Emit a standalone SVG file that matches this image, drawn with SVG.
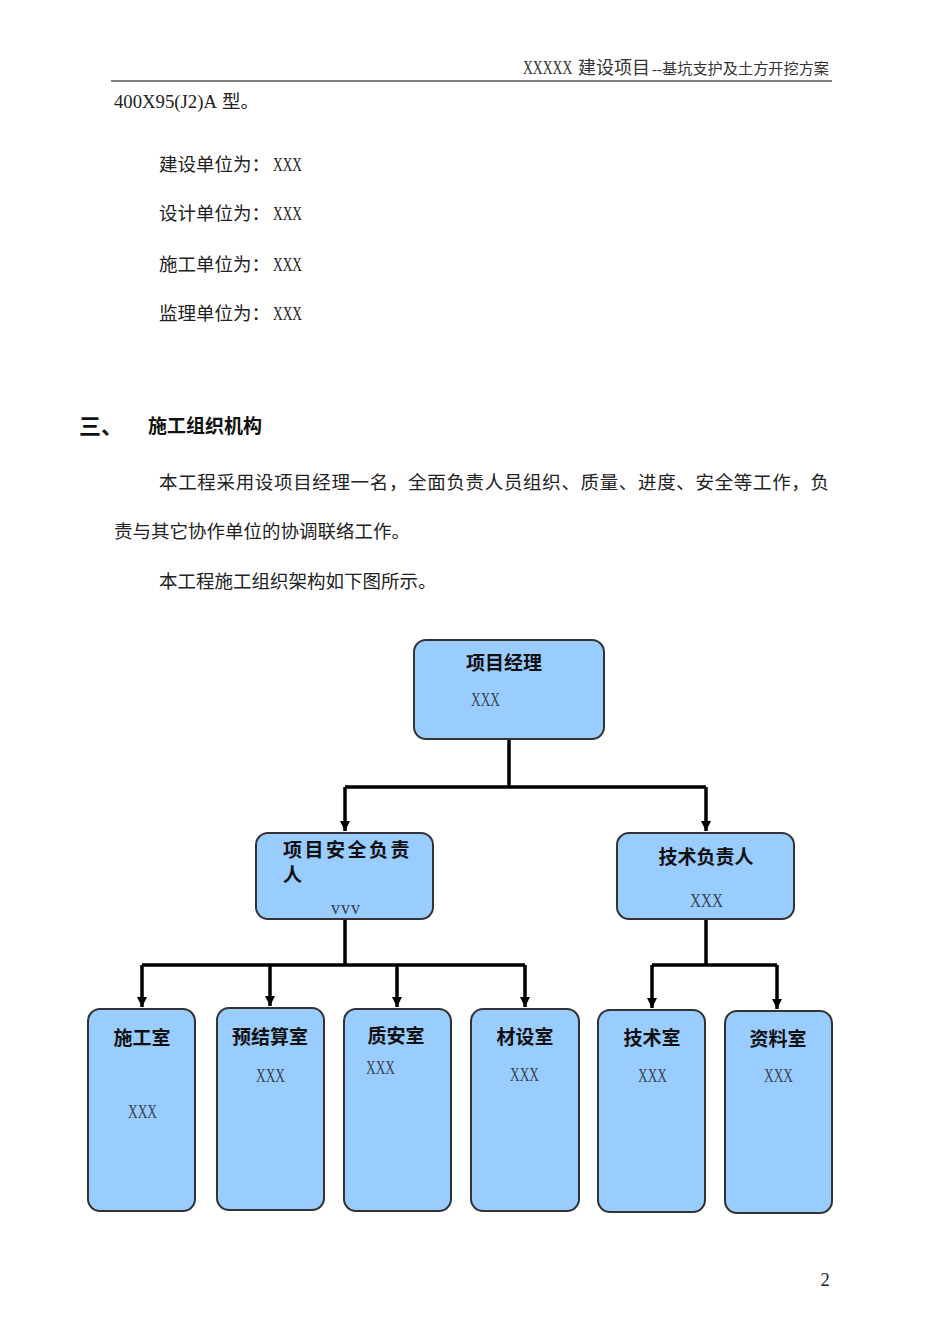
<svg xmlns="http://www.w3.org/2000/svg" width="950" height="1344" viewBox="0 0 950 1344">
<style>
.body{font-family:"Liberation Serif","Noto Sans CJK SC",serif;font-size:18.5px;fill:#222}
.hd{font-family:"Liberation Serif","Noto Sans CJK SC",serif;fill:#333}
.h1{font-family:"Liberation Sans","Noto Sans CJK SC",sans-serif;font-weight:bold;fill:#111}
.box{fill:#99CCFF;stroke:#333;stroke-width:2}
.ttl{font-family:"Liberation Sans","Noto Sans CJK SC",sans-serif;font-weight:bold;font-size:19px;fill:#111}
.val{font-family:"Liberation Serif","Noto Sans CJK SC",serif;font-size:18px;fill:#3a4450}
.cn{fill:none;stroke:#000;stroke-width:3.5}
</style>
<defs>
<marker id="ah" viewBox="0 0 10 10" refX="10" refY="5" markerWidth="3" markerHeight="3" orient="auto" markerUnits="strokeWidth">
<path d="M0,0 L10,5 L0,10 z" fill="#000"/>
</marker>
</defs>
<rect width="950" height="1344" fill="#fff"/>
<g id="header">
<text class="hd" transform="translate(523,74) scale(0.76,1)" font-size="18">XXXXX</text>
<text class="hd" x="578" y="74" font-size="18">建设项目</text>
<text class="hd" x="652" y="74" font-size="15" textLength="177" lengthAdjust="spacingAndGlyphs">--基坑支护及土方开挖方案</text>
<line x1="111" y1="81" x2="832" y2="81" stroke="#000" stroke-width="1.2"/>
</g>
<g id="text">
<text class="body" x="114" y="108" textLength="103" lengthAdjust="spacingAndGlyphs">400X95(J2)A</text>
<text class="body" x="222" y="108">型。</text>
<text class="body" x="159" y="171">建设单位为：<tspan x="273" textLength="29" lengthAdjust="spacingAndGlyphs">XXX</tspan></text>
<text class="body" x="159" y="220">设计单位为：<tspan x="273" textLength="29" lengthAdjust="spacingAndGlyphs">XXX</tspan></text>
<text class="body" x="159" y="271">施工单位为：<tspan x="273" textLength="29" lengthAdjust="spacingAndGlyphs">XXX</tspan></text>
<text class="body" x="159" y="320">监理单位为：<tspan x="273" textLength="29" lengthAdjust="spacingAndGlyphs">XXX</tspan></text>
<text class="h1" x="79" y="434" font-size="22">三、</text>
<text class="h1" x="148" y="433" font-size="19">施工组织机构</text>
<text class="body" x="159" y="489" textLength="670" lengthAdjust="spacing">本工程采用设项目经理一名，全面负责人员组织、质量、进度、安全等工作，负</text>
<text class="body" x="114" y="538">责与其它协作单位的协调联络工作。</text>
<text class="body" x="159" y="588">本工程施工组织架构如下图所示。</text>
<text class="body" x="825" y="1286" font-size="13" text-anchor="middle">2</text>
</g>
<g id="connectors">
<path class="cn" d="M509,739 V787 M345,787 H706"/>
<path class="cn" d="M345,787 V831" marker-end="url(#ah)"/>
<path class="cn" d="M706,787 V831" marker-end="url(#ah)"/>
<path class="cn" d="M345,919 V965 M142,965 H525 M706,919 V965 M652,965 H777"/>
<path class="cn" d="M142,965 V1007" marker-end="url(#ah)"/>
<path class="cn" d="M270,965 V1006" marker-end="url(#ah)"/>
<path class="cn" d="M397,965 V1007" marker-end="url(#ah)"/>
<path class="cn" d="M525,965 V1007" marker-end="url(#ah)"/>
<path class="cn" d="M652,965 V1008" marker-end="url(#ah)"/>
<path class="cn" d="M777,965 V1009" marker-end="url(#ah)"/>
</g>
<g id="pm">
<rect class="box" x="414" y="640" width="190" height="99" rx="12"/>
<text class="ttl" x="466" y="670">项目经理</text>
<text class="val" x="471" y="706" textLength="29" lengthAdjust="spacingAndGlyphs">XXX</text>
</g>
<g id="safety">
<rect class="box" x="256" y="833" width="177" height="86" rx="12"/>
<text class="ttl" x="283" y="857" letter-spacing="2.5">项目安全负责</text>
<text class="ttl" x="283" y="882">人</text>
<text class="val" x="346" y="914" text-anchor="middle" font-size="14" letter-spacing="1">vvv</text>
</g>
<g id="tech">
<rect class="box" x="617" y="833" width="177" height="86" rx="12"/>
<text class="ttl" x="706" y="864" text-anchor="middle">技术负责人</text>
<text class="val" x="690" y="907" textLength="33" lengthAdjust="spacingAndGlyphs">XXX</text>
</g>
<g id="sg">
<rect class="box" x="88" y="1009" width="107" height="202" rx="12"/>
<text class="ttl" x="142" y="1045" text-anchor="middle">施工室</text>
<text class="val" x="128" y="1118" textLength="29" lengthAdjust="spacingAndGlyphs">XXX</text>
</g>
<g id="yjs">
<rect class="box" x="217" y="1008" width="107" height="202" rx="12"/>
<text class="ttl" x="270" y="1044" text-anchor="middle">预结算室</text>
<text class="val" x="256" y="1082" textLength="29" lengthAdjust="spacingAndGlyphs">XXX</text>
</g>
<g id="za">
<rect class="box" x="344" y="1009" width="107" height="202" rx="12"/>
<text class="ttl" x="396" y="1043" text-anchor="middle">质安室</text>
<text class="val" x="366" y="1074" textLength="29" lengthAdjust="spacingAndGlyphs">XXX</text>
</g>
<g id="cs">
<rect class="box" x="471" y="1009" width="108" height="202" rx="12"/>
<text class="ttl" x="525" y="1044" text-anchor="middle">材设室</text>
<text class="val" x="510" y="1081" textLength="29" lengthAdjust="spacingAndGlyphs">XXX</text>
</g>
<g id="js">
<rect class="box" x="598" y="1010" width="107" height="202" rx="12"/>
<text class="ttl" x="652" y="1045" text-anchor="middle">技术室</text>
<text class="val" x="638" y="1082" textLength="29" lengthAdjust="spacingAndGlyphs">XXX</text>
</g>
<g id="zl">
<rect class="box" x="725" y="1011" width="107" height="202" rx="12"/>
<text class="ttl" x="778" y="1046" text-anchor="middle">资料室</text>
<text class="val" x="764" y="1082" textLength="29" lengthAdjust="spacingAndGlyphs">XXX</text>
</g>
</svg>
